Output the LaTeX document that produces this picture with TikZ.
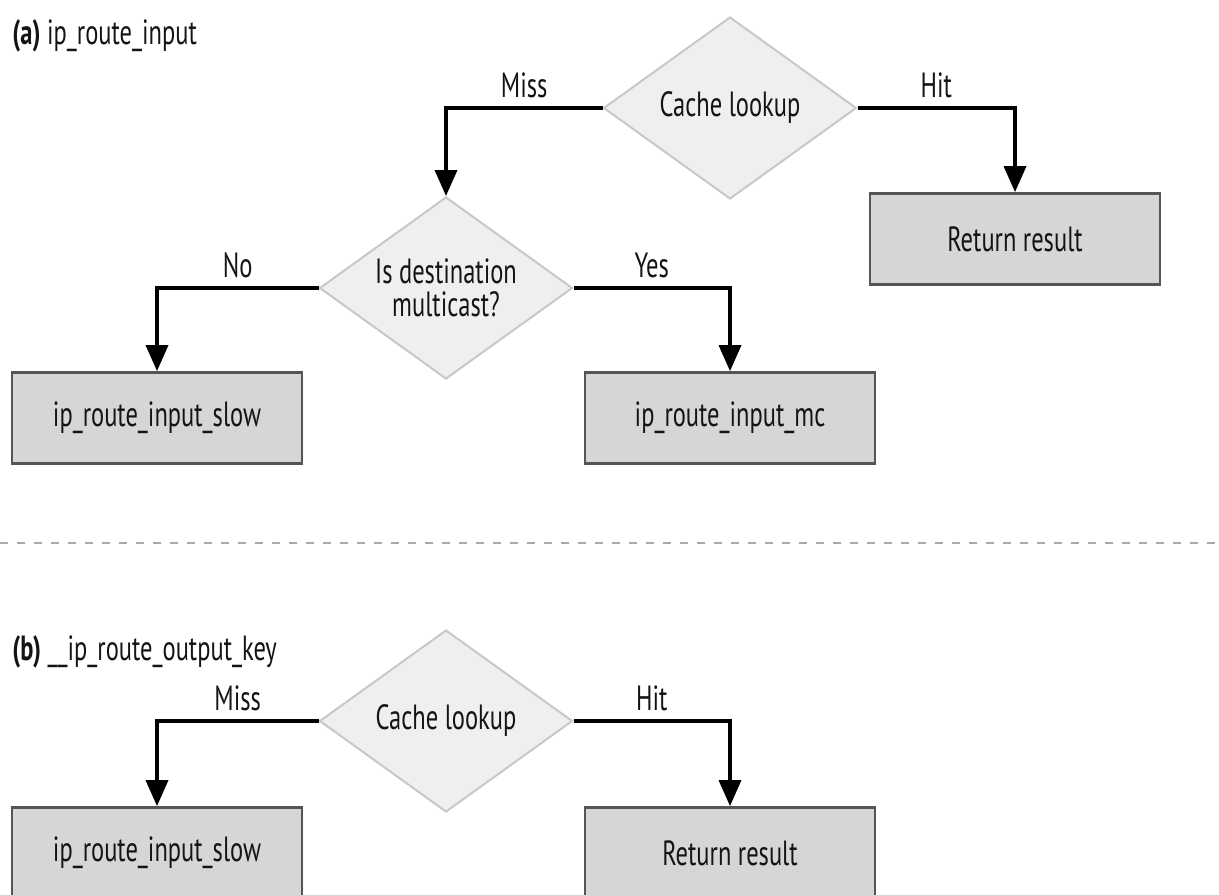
\documentclass[tikz,border=0pt]{standalone}
\usepackage{fontspec}
\setmainfont{PT Sans}[FakeStretch=0.7]
\usetikzlibrary{shapes.geometric,arrows.meta}

\definecolor{boxfill}{HTML}{D6D6D6}
\definecolor{boxline}{HTML}{555555}
\definecolor{decfill}{HTML}{EFEFEF}
\definecolor{decline}{HTML}{C8C8C8}
\definecolor{sepline}{HTML}{AAAAAA}
\definecolor{ink}{HTML}{141414}

\tikzset{
  decision/.style={diamond, draw=decline, line width=1pt, fill=decfill,
    minimum width=126.5pt, minimum height=91pt, inner sep=0pt,
    shape aspect=1.4, align=center},
  action/.style={rectangle, draw=boxline, line width=1.4pt, fill=boxfill,
    minimum width=145pt, minimum height=45.5pt},
  flow/.style={line width=1.8pt, -{Triangle[width=11pt,length=13pt]}},
  answer/.style={above, pos=0.25, inner sep=4pt},
  heading/.style={anchor=west, inner sep=0pt},
}

\begin{document}
\begin{tikzpicture}[x=0.5pt, y=-0.5pt, font=\fontsize{17.5}{16.5}\selectfont, text=ink]
  \useasboundingbox (0,0) rectangle (1219,894);
  \clip (0,0) rectangle (1219,894);

  % (a) ip_route_input
  \node[heading] (titleA) at (12,36) {\textbf{(a)} ip\_route\_input};
  \node[decision] (cacheA) at (730,108) {Cache lookup};
  \node[decision] (mcast) at (446,288) {Is destination\\multicast?};
  \node[action] (resultA) at (1015,239) {Return result};
  \node[action] (slowA) at (157,418) {ip\_route\_input\_slow};
  \node[action] (mc) at (730,418) {ip\_route\_input\_mc};

  \draw[flow] (cacheA.west) -| node[answer] {Miss} (mcast.north);
  \draw[flow] (cacheA.east) -| node[answer] {Hit} (resultA.north);
  \draw[flow] (mcast.west) -| node[answer] {No} (slowA.north);
  \draw[flow] (mcast.east) -| node[answer] {Yes} (mc.north);

  % Trennlinie
  \draw[sepline, line width=1pt, dash pattern=on 4pt off 4.5pt] (0,543) -- (1219,543);

  % (b) __ip_route_output_key
  \node[heading] (titleB) at (12,652) {\textbf{(b)} \_\_ip\_route\_output\_key};
  \node[decision] (cacheB) at (446,721) {Cache lookup};
  \node[action] (slowB) at (157,853) {ip\_route\_input\_slow};
  \node[action] (resultB) at (730,853) {Return result};

  \draw[flow] (cacheB.west) -| node[answer] {Miss} (slowB.north);
  \draw[flow] (cacheB.east) -| node[answer] {Hit} (resultB.north);
\end{tikzpicture}
\end{document}
